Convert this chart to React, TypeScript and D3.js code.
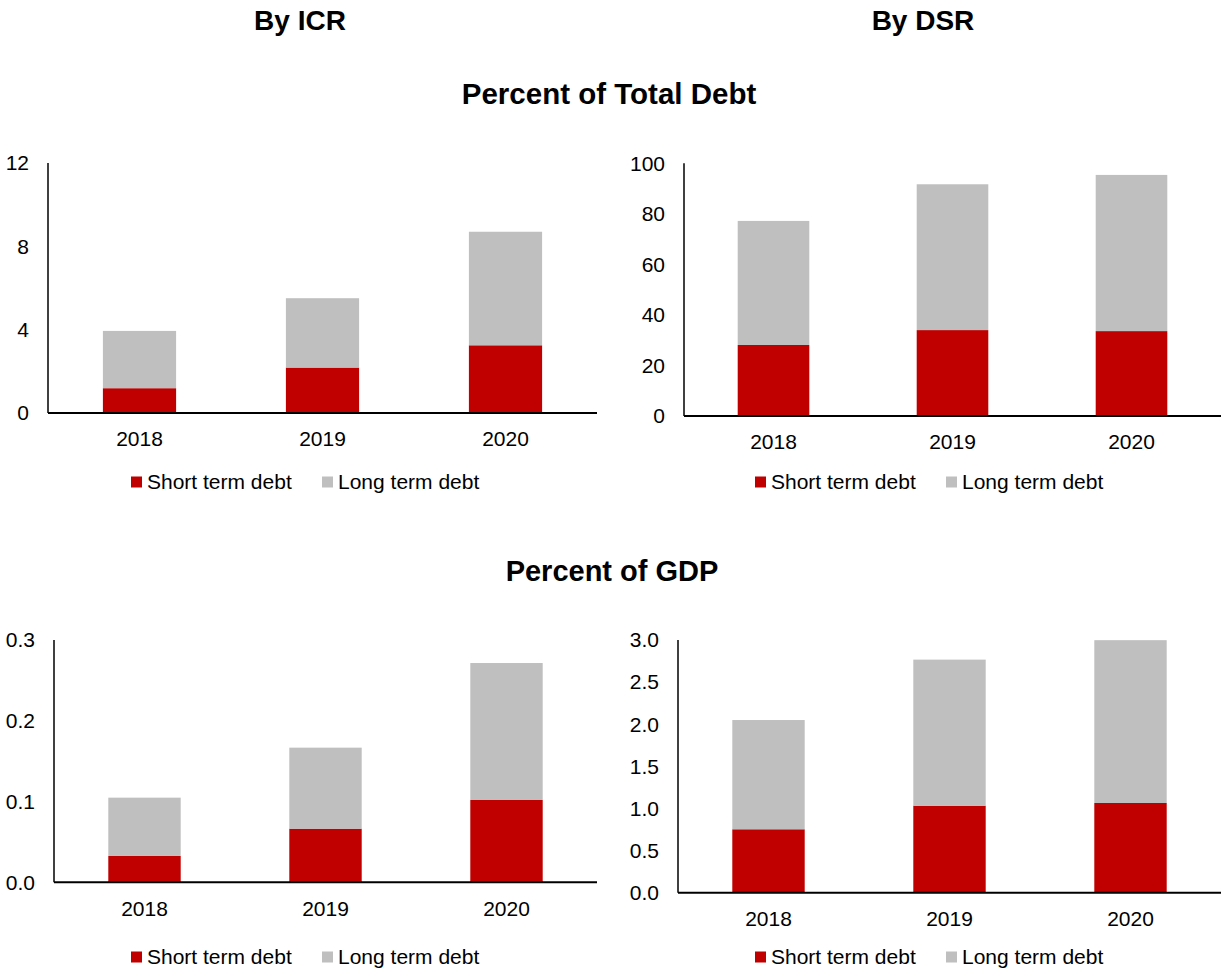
import React from "react"
import * as d3 from "d3"

// categories
const years = ["2018", "2019", "2020"]

// By ICR, percent of total debt
const icrDebtShort = [1.19, 2.18, 3.25]
const icrDebtLong = [2.75, 3.33, 5.45]
// By DSR, percent of total debt
const dsrDebtShort = [28.1, 34.0, 33.6]
const dsrDebtLong = [49.1, 57.7, 61.8]
// By ICR, percent of GDP
const icrGdpShort = [0.0326, 0.0664, 0.1019]
const icrGdpLong = [0.0722, 0.1003, 0.1696]
// By DSR, percent of GDP
const dsrGdpShort = [0.753, 1.033, 1.065]
const dsrGdpLong = [1.297, 1.734, 1.933]

const icrDebtTicks = [0, 4, 8, 12]
const dsrDebtTicks = [0, 20, 40, 60, 80, 100]
const icrGdpTicks = [0, 0.1, 0.2, 0.3]
const dsrGdpTicks = [0, 0.5, 1.0, 1.5, 2.0, 2.5, 3.0]

const seriesNames = ["Short term debt", "Long term debt"]
const colors = ["#C00000", "#BFBFBF"]

const FONT = "'Liberation Sans', Arial, sans-serif"
const LABEL_SIZE = 21

interface IPanel {
  left: number
  right: number
  top: number
  base: number
  ticks: number[]
  fmt: string
  short: number[]
  long: number[]
  legendX: number
  legendY: number
}

const Panel: React.FC<IPanel> = (props) => {
  const x = d3.scaleBand<string>()
    .domain(years)
    .range([props.left, props.right])
    .paddingInner(0.6)
    .paddingOuter(0.3)

  const y = d3.scaleLinear()
    .domain([0, props.ticks[props.ticks.length - 1]])
    .range([props.base, props.top])

  const rows = years.map((yr, i) => ({ year: yr, short: props.short[i], long: props.long[i] }))
  const stacked = d3.stack<any>().keys(["short", "long"])(rows)
  const format = d3.format(props.fmt)

  return (
    <g>
      {stacked.map((layer, li) => (
        <g key={layer.key} fill={colors[li]}>
          {layer.map((d, i) => (
            <rect key={i}
              x={x(years[i])}
              y={y(d[1])}
              width={x.bandwidth()}
              height={y(d[0]) - y(d[1])} />
          ))}
        </g>
      ))}
      <line x1={props.left} x2={props.left} y1={props.top} y2={props.base} stroke="#000" strokeWidth={1.5} />
      <line x1={props.left} x2={props.right} y1={props.base} y2={props.base} stroke="#000" strokeWidth={2} />
      {props.ticks.map(t => (
        <text key={t} x={props.left - 19} y={y(t)} dy="0.35em" textAnchor="end" fontSize={LABEL_SIZE}>
          {format(t)}
        </text>
      ))}
      {years.map(yr => (
        <text key={yr} x={(x(yr) ?? 0) + x.bandwidth() / 2} y={props.base + 26} dy="0.35em" textAnchor="middle" fontSize={LABEL_SIZE}>
          {yr}
        </text>
      ))}
      <g transform={`translate(${props.legendX}, ${props.legendY})`}>
        {seriesNames.map((name, i) => (
          <g key={name} transform={`translate(${i === 0 ? -174 : 17}, 0)`}>
            <rect x={0} y={-5.5} width={11} height={11} fill={colors[i]} />
            <text x={16} y={0} dy="0.35em" fontSize={LABEL_SIZE}>{name}</text>
          </g>
        ))}
      </g>
    </g>
  )
}

const App: React.FC = () => {
  return (
    <svg width={1225} height={973} style={{ position: "absolute", left: 0, top: 0 }} fontFamily={FONT}>
      <rect width={1225} height={973} fill="#fff" />
      <g fontWeight="bold" textAnchor="middle">
        <text x={300} y={30} fontSize={28}>By ICR</text>
        <text x={923} y={30} fontSize={28}>By DSR</text>
        <text x={609} y={104} fontSize={29.5}>Percent of Total Debt</text>
        <text x={612} y={581} fontSize={29}>Percent of GDP</text>
      </g>
      <Panel left={48} right={597} top={163} base={413} ticks={icrDebtTicks} fmt="d"
        short={icrDebtShort} long={icrDebtLong} legendX={305} legendY={482} />
      <Panel left={684} right={1221} top={163.3} base={416} ticks={dsrDebtTicks} fmt="d"
        short={dsrDebtShort} long={dsrDebtLong} legendX={929} legendY={482} />
      <Panel left={54} right={597} top={640} base={882.3} ticks={icrGdpTicks} fmt=".1f"
        short={icrGdpShort} long={icrGdpLong} legendX={305} legendY={957} />
      <Panel left={678} right={1221} top={640} base={892.7} ticks={dsrGdpTicks} fmt=".1f"
        short={dsrGdpShort} long={dsrGdpLong} legendX={929} legendY={957} />
    </svg>
  )
}

export default App
